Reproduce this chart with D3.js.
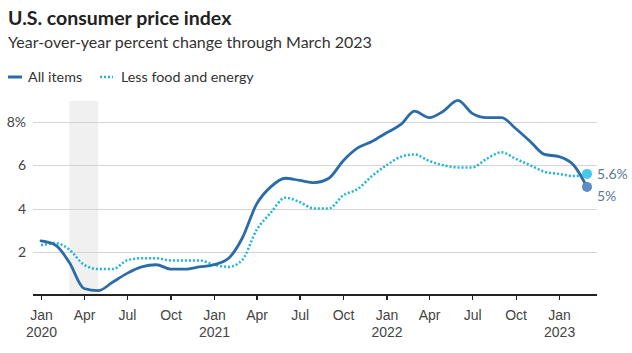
<!DOCTYPE html>
<meta charset="utf-8">
<style>
body { margin: 0; background: #fff; font-family: Lato, "Open Sans", sans-serif; }
svg { display: block; }
.grid line { stroke: #d4d4d4; stroke-width: 1; shape-rendering: crispEdges; }
.xaxis path, .xaxis line { stroke: #222; stroke-width: 1.2; shape-rendering: crispEdges; }
.xaxis text, .ylab { fill: #444; font-size: 14px; }
</style>
<body>
<svg width="632" height="353"></svg>
<script src="https://d3js.org/d3.v7.min.js"></script>
<script>

var months = [
  "2020-01","2020-02","2020-03","2020-04","2020-05","2020-06","2020-07","2020-08","2020-09","2020-10","2020-11","2020-12",
  "2021-01","2021-02","2021-03","2021-04","2021-05","2021-06","2021-07","2021-08","2021-09","2021-10","2021-11","2021-12",
  "2022-01","2022-02","2022-03","2022-04","2022-05","2022-06","2022-07","2022-08","2022-09","2022-10","2022-11","2022-12",
  "2023-01","2023-02","2023-03"
];

var allItems = [
  2.5, 2.3, 1.5, 0.3, 0.2, 0.6, 1.0, 1.3, 1.4, 1.2, 1.2, 1.3,
  1.4, 1.7, 2.6, 4.2, 5.0, 5.4, 5.3, 5.2, 5.4, 6.2, 6.8, 7.1,
  7.5, 7.9, 8.5, 8.2, 8.5, 9.0, 8.4, 8.2, 8.2, 7.7, 7.1, 6.5,
  6.4, 6.0, 5.0
];

var lessFoodEnergy = [
  2.3, 2.4, 2.1, 1.4, 1.2, 1.2, 1.6, 1.7, 1.7, 1.6, 1.6, 1.6,
  1.4, 1.3, 1.6, 3.0, 3.8, 4.5, 4.3, 4.0, 4.0, 4.6, 4.9, 5.5,
  6.0, 6.4, 6.5, 6.2, 6.0, 5.9, 5.9, 6.3, 6.6, 6.3, 6.0, 5.7,
  5.6, 5.5, 5.6
];

var yTicks = [2, 4, 6, 8];
var xTicks = ["2020-01","2020-04","2020-07","2020-10","2021-01","2021-04","2021-07","2021-10",
              "2022-01","2022-04","2022-07","2022-10","2023-01"];
var monthNames = {"01": "Jan", "04": "Apr", "07": "Jul", "10": "Oct"};
var recession = ["2020-03", "2020-05"];

var parseMonth = d3.timeParse("%Y-%m");
var svg = d3.select("svg");

var x = d3.scaleTime()
    .domain([parseMonth("2020-01"), parseMonth("2023-03")])
    .range([41, 587]);
var y = d3.scaleLinear()
    .domain([0, 8])
    .range([295, 122]);

var seriesA = months.map(function(m, i) { return {date: parseMonth(m), value: allItems[i]}; });
var seriesB = months.map(function(m, i) { return {date: parseMonth(m), value: lessFoodEnergy[i]}; });

// title block
svg.append("text").attr("x", 8).attr("y", 25)
    .style("font-size", "19.5px").style("font-weight", 700).attr("fill", "#222")
    .text("U.S. consumer price index");
svg.append("text").attr("x", 8).attr("y", 48)
    .style("font-size", "16px").attr("fill", "#333")
    .text("Year-over-year percent change through March 2023");

// legend
var legend = svg.append("g").style("font-size", "14.3px");
legend.append("line").attr("x1", 8).attr("x2", 22).attr("y1", 77).attr("y2", 77)
    .attr("stroke", "#2b6ca8").attr("stroke-width", 3);
legend.append("text").attr("x", 28).attr("y", 82).attr("fill", "#333").text("All items");
legend.append("line").attr("x1", 100).attr("x2", 113).attr("y1", 77).attr("y2", 77)
    .attr("stroke", "#1fb6d6").attr("stroke-width", 2.5).attr("stroke-dasharray", "2,2");
legend.append("text").attr("x", 121).attr("y", 82).attr("fill", "#333").text("Less food and energy");

// recession shading
svg.append("rect")
    .attr("x", x(parseMonth(recession[0])))
    .attr("width", x(parseMonth(recession[1])) - x(parseMonth(recession[0])))
    .attr("y", 101)
    .attr("height", y(0) - 101)
    .attr("fill", "#f0f0f0");

// grid
svg.append("g").attr("class", "grid")
    .selectAll("line").data(yTicks).enter().append("line")
    .attr("x1", 33).attr("x2", 597)
    .attr("y1", function(d) { return Math.round(y(d)) + 0.5; })
    .attr("y2", function(d) { return Math.round(y(d)) + 0.5; });

svg.append("g").selectAll("text").data(yTicks).enter().append("text")
    .attr("class", "ylab")
    .attr("x", 26).attr("y", function(d) { return y(d) + 5; })
    .attr("text-anchor", "end")
    .text(function(d) { return d === 8 ? "8%" : d; });

// x axis
var xAxis = svg.append("g").attr("class", "xaxis")
    .attr("transform", "translate(0," + y(0) + ")")
    .call(d3.axisBottom(x)
        .tickValues(xTicks.map(parseMonth))
        .tickSize(5)
        .tickSizeOuter(0)
        .tickFormat(function() { return ""; }));
xAxis.select(".domain").attr("d", "M33,0H597");
xAxis.selectAll(".tick text").remove();
xAxis.selectAll(".tick").each(function(d) {
    var t = d3.select(this).append("text").attr("text-anchor", "middle").attr("fill", "#444")
        .style("font-size", "14px");
    var mm = d3.timeFormat("%m")(d);
    t.append("tspan").attr("x", 0).attr("y", 25).text(monthNames[mm]);
    if (mm === "01") t.append("tspan").attr("x", 0).attr("y", 42).text(d3.timeFormat("%Y")(d));
});

var line = d3.line()
    .x(function(d) { return x(d.date); })
    .y(function(d) { return y(d.value); })
    .curve(d3.curveMonotoneX);

svg.append("path").datum(seriesB)
    .attr("fill", "none").attr("stroke", "#1fb6d6").attr("stroke-width", 2.5)
    .attr("stroke-dasharray", "2,2")
    .attr("d", line);

svg.append("path").datum(seriesA)
    .attr("fill", "none").attr("stroke", "#2b6ca8").attr("stroke-width", 2.8)
    .attr("stroke-linejoin", "round").attr("stroke-linecap", "round")
    .attr("d", line);

// end markers
var lastB = seriesB[seriesB.length - 1], lastA = seriesA[seriesA.length - 1];
svg.append("circle").attr("cx", x(lastB.date)).attr("cy", y(lastB.value)).attr("r", 5)
    .attr("fill", "#46c9ea");
svg.append("circle").attr("cx", x(lastA.date)).attr("cy", y(lastA.value)).attr("r", 5)
    .attr("fill", "#5b8cc2");
svg.append("text").attr("x", 597).attr("y", y(lastB.value) + 5)
    .attr("fill", "#5a7896").style("font-size", "14px").text(lastB.value + "%");
svg.append("text").attr("x", 597).attr("y", y(lastA.value) + 14)
    .attr("fill", "#5a7896").style("font-size", "14px").text(lastA.value + "%");

</script>
